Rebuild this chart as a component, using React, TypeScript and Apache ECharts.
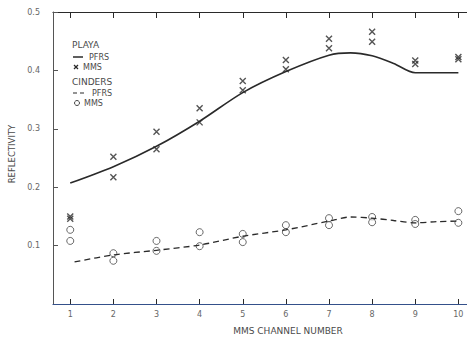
import React, { useEffect, useRef } from "react";
import * as echarts from "echarts";

const channels = [1, 2, 3, 4, 5, 6, 7, 8, 9, 10];
const yTicks = [0.1, 0.2, 0.3, 0.4, 0.5];

const playaMmsA = [0.150, 0.252, 0.295, 0.335, 0.382, 0.418, 0.454, 0.466, 0.417, 0.423];
const playaMmsB = [0.146, 0.217, 0.265, 0.311, 0.366, 0.402, 0.438, 0.449, 0.411, 0.419];
const cindersMmsA = [0.127, 0.087, 0.108, 0.123, 0.12, 0.135, 0.147, 0.149, 0.144, 0.159];
const cindersMmsB = [0.108, 0.074, 0.091, 0.099, 0.106, 0.123, 0.135, 0.14, 0.137, 0.139];

const playaPfrsX = [1, 2, 3, 4, 5, 6, 7, 7.5, 8, 8.5, 9, 9.5, 10];
const playaPfrsY = [0.207, 0.235, 0.27, 0.313, 0.362, 0.398, 0.426, 0.43, 0.425, 0.412, 0.396, 0.396, 0.396];
const cindersPfrsX = [1.1, 2, 3, 4, 5, 6, 7, 7.5, 8, 8.5, 9, 9.5, 10];
const cindersPfrsY = [0.072, 0.084, 0.092, 0.101, 0.116, 0.127, 0.142, 0.149, 0.147, 0.143, 0.139, 0.141, 0.142];

const FONT = "DejaVu Sans";
const INK = "#2a2a2a";
const LABEL = "#666";
const TXT = "#4a4a4a";

const pair = (xs: number[], ys: number[]) => xs.map((x, i) => [x, ys[i]]);

export default function App() {
  const ref = useRef<HTMLDivElement>(null);
  useEffect(() => {
    if (!ref.current) return;
    const chart = echarts.init(ref.current, undefined, { renderer: "svg" });
    const xMark = "path://M0 0L8 8M8 0L0 8";
    const xStyle = { color: "transparent", borderColor: INK, borderWidth: 1.4 };
    const oStyle = { color: "#fff", borderColor: "#444", borderWidth: 1 };
    chart.setOption({
      animation: false,
      backgroundColor: "#fff",
      grid: { left: 53, right: 0, top: 12, bottom: 33 },
      xAxis: [
        {
          type: "value",
          min: 0.6,
          max: 10.2,
          position: "bottom",
          axisLine: { show: true, lineStyle: { color: "#34508a", width: 1.2 } },
          axisTick: { show: true, inside: true, length: 5, customValues: channels, lineStyle: { color: INK } },
          axisLabel: { customValues: channels, color: LABEL, fontSize: 8, fontFamily: FONT, margin: 6 },
          splitLine: { show: false },
        },
        {
          type: "value",
          min: 0.6,
          max: 10.2,
          position: "top",
          axisLine: { show: true, lineStyle: { color: INK, width: 1.2 } },
          axisTick: { show: true, inside: true, length: 6, customValues: channels, lineStyle: { color: INK } },
          axisLabel: { show: false },
          splitLine: { show: false },
        },
      ],
      yAxis: {
        type: "value",
        min: 0,
        max: 0.5,
        interval: 0.1,
        axisLine: { show: true, lineStyle: { color: "#555", width: 1 } },
        axisTick: { show: true, inside: true, length: 5, customValues: yTicks, lineStyle: { color: "#555" } },
        axisLabel: {
          color: LABEL,
          fontSize: 8,
          fontFamily: FONT,
          margin: 13,
          formatter: (v: number) => (v === 0 ? "" : v.toFixed(1)),
        },
        splitLine: { show: false },
      },
      series: [
        {
          type: "line",
          data: pair(playaPfrsX, playaPfrsY),
          smooth: 0.3,
          showSymbol: false,
          lineStyle: { color: INK, width: 1.6 },
        },
        {
          type: "line",
          data: pair(cindersPfrsX, cindersPfrsY),
          smooth: 0.3,
          showSymbol: false,
          lineStyle: { color: INK, width: 1.3, type: [6, 4] },
        },
        { type: "scatter", data: pair(channels, playaMmsA), symbol: xMark, symbolSize: 6, itemStyle: xStyle },
        { type: "scatter", data: pair(channels, playaMmsB), symbol: xMark, symbolSize: 6, itemStyle: xStyle },
        { type: "scatter", data: pair(channels, cindersMmsA), symbol: "circle", symbolSize: 7, itemStyle: oStyle },
        { type: "scatter", data: pair(channels, cindersMmsB), symbol: "circle", symbolSize: 7, itemStyle: oStyle },
      ],
      graphic: [
        { type: "text", x: 72, y: 45, style: { text: "PLAYA", fill: TXT, font: `9px '${FONT}'`, textVerticalAlign: "middle" } },
        { type: "line", shape: { x1: 73, y1: 57, x2: 83, y2: 57 }, style: { stroke: INK, lineWidth: 1.5 } },
        { type: "text", x: 89, y: 57, style: { text: "PFRS", fill: TXT, font: `8px '${FONT}'`, textVerticalAlign: "middle" } },
        { type: "line", shape: { x1: 74, y1: 65, x2: 78, y2: 69 }, style: { stroke: INK, lineWidth: 1.2 } },
        { type: "line", shape: { x1: 78, y1: 65, x2: 74, y2: 69 }, style: { stroke: INK, lineWidth: 1.2 } },
        { type: "text", x: 83, y: 67, style: { text: "MMS", fill: TXT, font: `8px '${FONT}'`, textVerticalAlign: "middle" } },
        { type: "text", x: 72, y: 82, style: { text: "CINDERS", fill: TXT, font: `9px '${FONT}'`, textVerticalAlign: "middle" } },
        { type: "line", shape: { x1: 73, y1: 93, x2: 87, y2: 93 }, style: { stroke: INK, lineWidth: 1.2, lineDash: [4, 3] } },
        { type: "text", x: 92, y: 93, style: { text: "PFRS", fill: TXT, font: `8px '${FONT}'`, textVerticalAlign: "middle" } },
        { type: "circle", shape: { cx: 77, cy: 103, r: 2.5 }, style: { fill: "#fff", stroke: "#444", lineWidth: 1 } },
        { type: "text", x: 84, y: 103, style: { text: "MMS", fill: TXT, font: `8px '${FONT}'`, textVerticalAlign: "middle" } },
        {
          type: "text",
          x: 12,
          y: 154,
          rotation: Math.PI / 2,
          style: { text: "REFLECTIVITY", fill: TXT, font: `8.5px '${FONT}'`, textAlign: "center", textVerticalAlign: "middle" },
        },
        {
          type: "text",
          x: 288,
          y: 331,
          style: { text: "MMS CHANNEL NUMBER", fill: TXT, font: `9px '${FONT}'`, textAlign: "center", textVerticalAlign: "middle" },
        },
      ],
    });
    return () => chart.dispose();
  }, []);
  return <div ref={ref} style={{ position: "fixed", left: 0, top: 0, width: 467, height: 337 }} />;
}
